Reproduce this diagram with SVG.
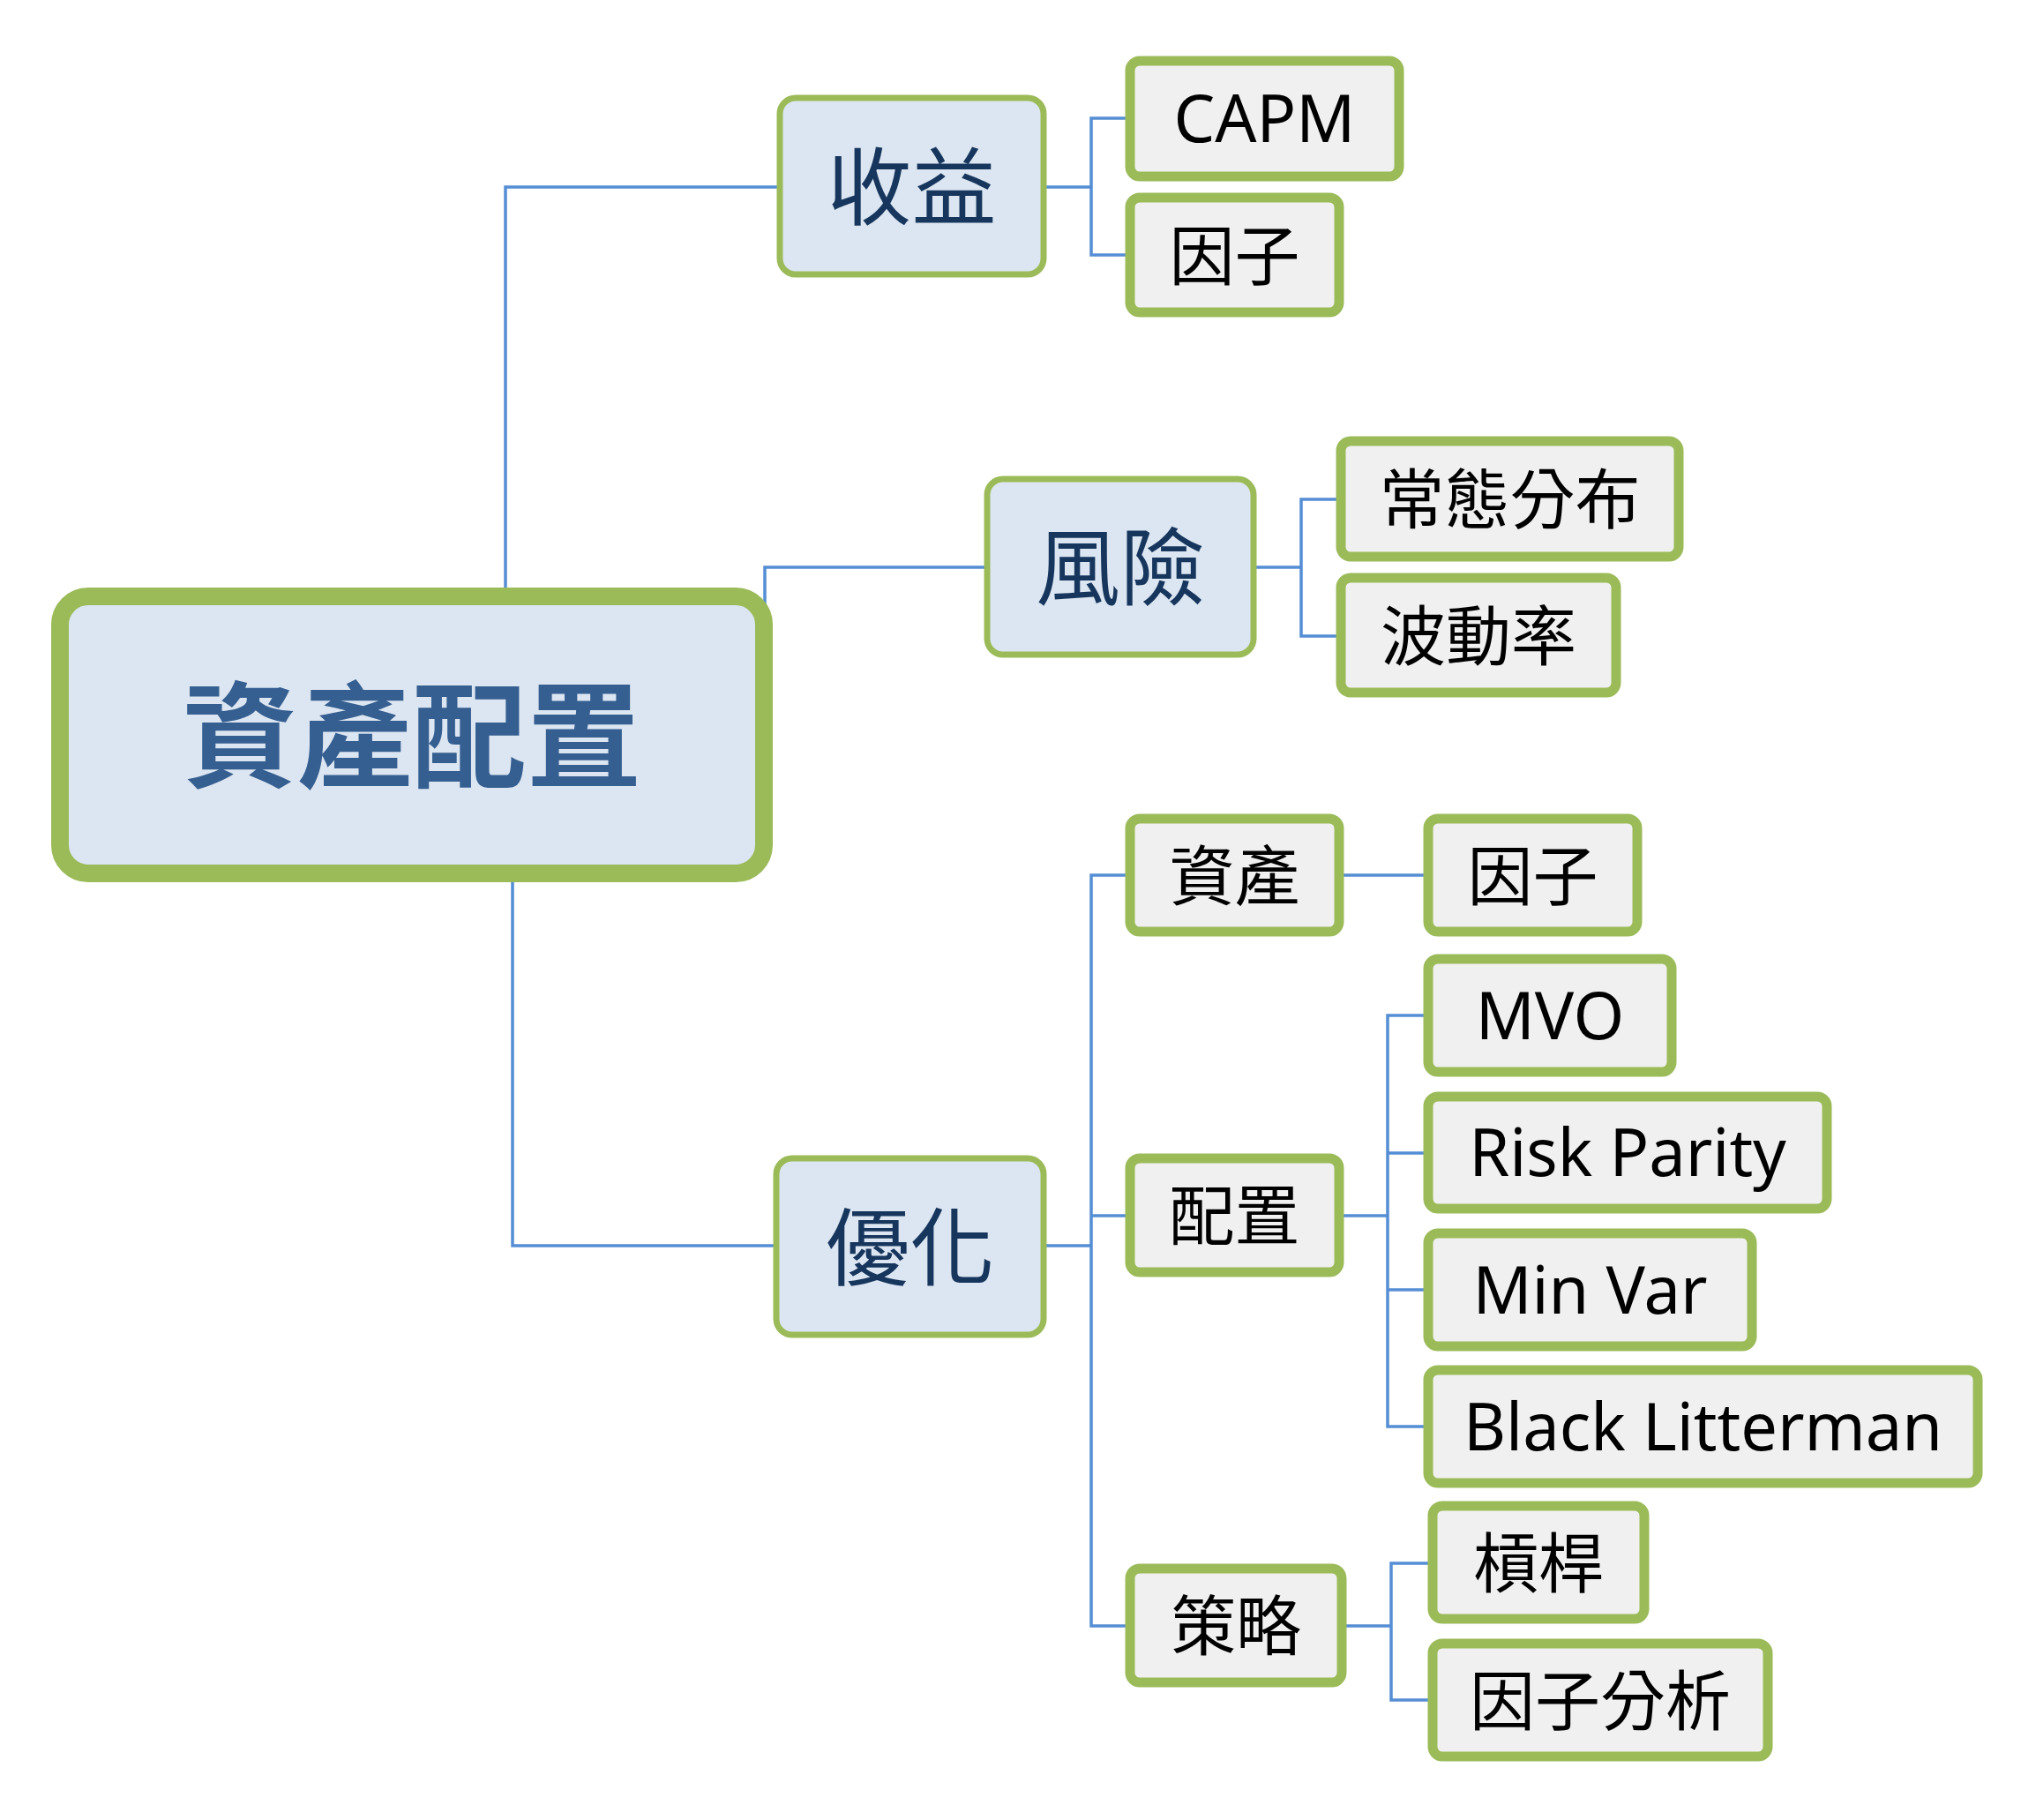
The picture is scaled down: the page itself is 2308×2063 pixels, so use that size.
<svg xmlns="http://www.w3.org/2000/svg" width="2308" height="2063" viewBox="0 0 2308 2063">
<style>
.root rect{fill:#DCE6F2;stroke:#9BBB59;stroke-width:20}
.l1 rect{fill:#DCE6F2;stroke:#9BBB59;stroke-width:7}
.l2 rect{fill:#F0F0F0;stroke:#9BBB59;stroke-width:11}
text{font-family:"Noto Sans","Noto Sans CJK TC",sans-serif;text-anchor:middle}
.root text{font-family:"Noto Sans CJK TC",sans-serif;font-weight:bold;font-size:130px;fill:#365F91}
.l1 text{font-family:"Noto Sans CJK TC",sans-serif;font-size:96px;fill:#17365D}
.l2 text{font-size:74px;fill:#000}
.conn path{fill:none;stroke:#558ED5;stroke-width:3.5}
</style>
<rect width="2308" height="2063" fill="#FFFFFF"/>
<g transform="translate(-4,-2)">
<g class="conn" id="connectors">
<path d="M577,690 V214 H888"/>
<path d="M871,700 V645 H1123"/>
<path d="M585,980 V1414 H884"/>
<path d="M1187,214 H1241 M1285,136 H1241 V291 H1285"/>
<path d="M1425,645 H1479 M1524,568 H1479 V723 H1524"/>
<path d="M1187,1414 H1241 M1285,994 H1241 V1845 H1285 M1241,1380 H1285"/>
<path d="M1522,994 H1623"/>
<path d="M1522,1380 H1577 M1623,1153 H1577 V1619 H1623 M1577,1309 H1623 M1577,1464 H1623"/>
<path d="M1525,1845 H1581 M1628,1774 H1581 V1929 H1628"/>
</g>
<g class="root" id="n-root"><rect x="72" y="678" width="798" height="314" rx="32"/><text x="471" y="884">資產配置</text></g>
<g class="l1" id="n-shouyi"><rect x="888" y="113" width="299" height="200" rx="18"/><text x="1037.5" y="249">收益</text></g>
<g class="l1" id="n-fengxian"><rect x="1123" y="545" width="302" height="199" rx="18"/><text x="1274" y="680">風險</text></g>
<g class="l1" id="n-youhua"><rect x="884" y="1315" width="303" height="200" rx="18"/><text x="1035.5" y="1451">優化</text></g>
<g class="l2" id="n-capm"><rect x="1285" y="71" width="305" height="131" rx="11"/><text x="1437.5" y="163">CAPM</text></g>
<g class="l2" id="n-yinzi1"><rect x="1285" y="226" width="237" height="130" rx="11"/><text x="1403.5" y="319">因子</text></g>
<g class="l2" id="n-changtai"><rect x="1524" y="502" width="383" height="131" rx="11"/><text x="1715.5" y="595">常態分布</text></g>
<g class="l2" id="n-bodong"><rect x="1524" y="657" width="312" height="130" rx="11"/><text x="1680" y="750">波動率</text></g>
<g class="l2" id="n-zichan"><rect x="1285" y="930" width="237" height="128" rx="11"/><text x="1403.5" y="1022">資產</text></g>
<g class="l2" id="n-yinzi2"><rect x="1623" y="930" width="237" height="128" rx="11"/><text x="1741.5" y="1022">因子</text></g>
<g class="l2" id="n-peizhi"><rect x="1285" y="1315" width="237" height="129" rx="11"/><text x="1403.5" y="1407">配置</text></g>
<g class="l2" id="n-celue"><rect x="1285" y="1780" width="240" height="129" rx="11"/><text x="1405" y="1872">策略</text></g>
<g class="l2" id="n-mvo"><rect x="1623" y="1089" width="276" height="128" rx="11"/><text x="1761" y="1180">MVO</text></g>
<g class="l2" id="n-riskparity"><rect x="1623" y="1245" width="452" height="127" rx="11"/><text x="1849" y="1335">Risk Parity</text></g>
<g class="l2" id="n-minvar"><rect x="1623" y="1400" width="367" height="128" rx="11"/><text x="1806.5" y="1491">Min Var</text></g>
<g class="l2" id="n-bl"><rect x="1623" y="1555" width="623" height="128" rx="11"/><text x="1934.5" y="1646">Black Litterman</text></g>
<g class="l2" id="n-gangan"><rect x="1628" y="1709" width="240" height="128" rx="11"/><text x="1748" y="1801">槓桿</text></g>
<g class="l2" id="n-yinzifenxi"><rect x="1628" y="1865" width="380" height="128" rx="11"/><text x="1818" y="1957">因子分析</text></g>
</g>
</svg>
